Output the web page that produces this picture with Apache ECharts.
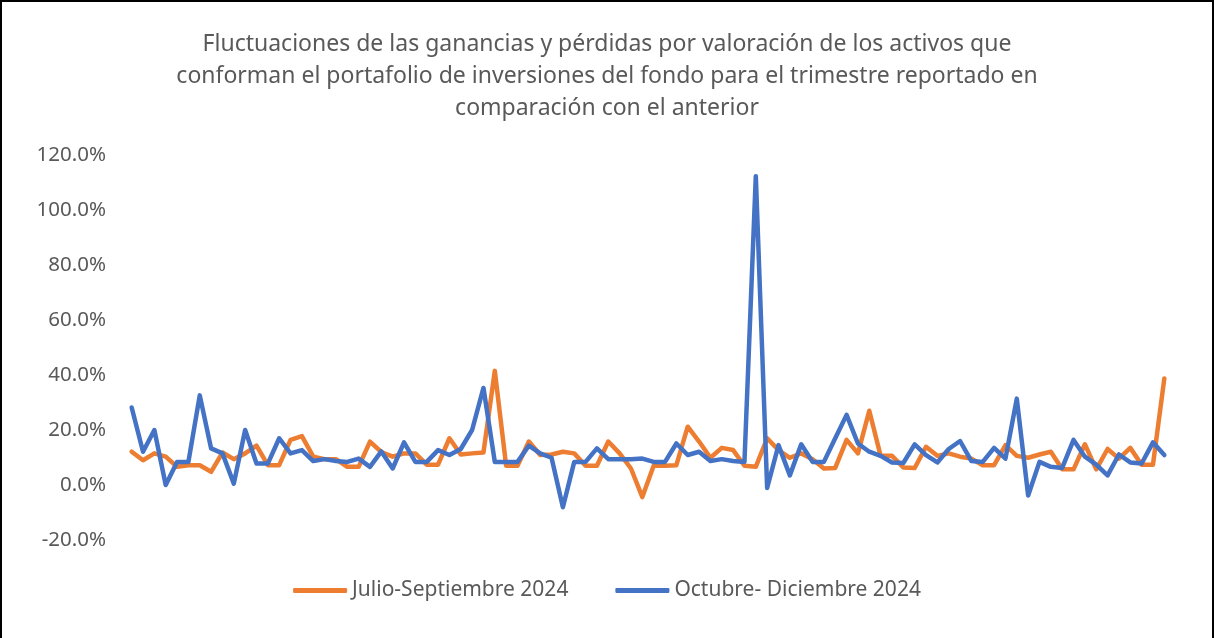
<!DOCTYPE html>
<html>
<head>
<meta charset="utf-8">
<script src="https://cdn.jsdelivr.net/npm/echarts@6/dist/echarts.min.js"></script>
<style>
  html, body { margin: 0; padding: 0; background: #fff; }
  #main { width: 1210px; height: 636px; border: 2px solid #000; border-bottom: none; }
</style>
</head>
<body>
<div id="main"></div>
<script>
// valores (%)
const julioSeptiembre = [
  12.1, 9.0, 11.5, 10.3, 6.6, 7.2, 7.2, 4.8, 11.8, 9.4,
  11.5, 14.3, 7.2, 7.2, 16.4, 17.8, 10.3, 9.4, 9.4, 6.6,
  6.6, 15.8, 12.0, 10.3, 11.5, 11.5, 7.4, 7.4, 17.0, 11.1,
  11.5, 11.8, 41.5, 7.0, 7.0, 15.8, 10.9, 11.1, 12.1, 11.5,
  7.0, 7.0, 15.8, 11.5, 6.0, -4.4, 7.0, 7.0, 7.2, 21.2,
  15.8, 9.9, 13.5, 12.7, 7.0, 6.6, 17.0, 12.7, 9.9, 11.5,
  9.4, 6.0, 6.2, 16.4, 11.5, 27.0, 10.6, 10.6, 6.4, 6.2,
  13.9, 10.6, 11.5, 10.3, 9.6, 7.2, 7.2, 14.5, 10.6, 9.9,
  11.1, 12.1, 5.7, 5.7, 14.8, 5.7, 13.1, 9.6, 13.5, 7.4,
  7.4, 38.7
]
const octubreDiciembre = [
  28.2, 12.1, 20.0, 0.0, 8.4, 8.4, 32.6, 13.3, 11.5, 0.5,
  20.0, 7.8, 7.8, 17.0, 11.5, 12.7, 8.7, 9.4, 8.7, 8.4,
  9.6, 6.6, 12.2, 6.0, 15.5, 8.4, 8.4, 12.7, 10.9, 13.1,
  20.0, 35.3, 8.4, 8.4, 8.4, 14.3, 11.5, 9.9, -8.1, 8.4,
  8.4, 13.3, 9.4, 9.4, 9.4, 9.6, 8.4, 8.4, 15.1, 10.9,
  12.1, 8.7, 9.4, 8.7, 8.4, 112.3, -1.1, 14.5, 3.5, 14.8,
  8.4, 8.4, 17.0, 25.5, 15.1, 12.1, 10.6, 8.2, 8.0, 14.8,
  10.9, 8.2, 13.1, 16.0, 8.7, 8.4, 13.5, 9.6, 31.4, -3.8,
  8.4, 6.6, 6.2, 16.4, 10.3, 7.4, 3.5, 11.1, 8.2, 7.8,
  15.5, 10.9
]
const categorias = julioSeptiembre.map((v, i) => String(i + 1))
const nombres = ['Julio-Septiembre 2024', 'Octubre- Diciembre 2024']

const chart = echarts.init(document.getElementById('main'))
chart.setOption({
  animation: false,
  textStyle: { fontFamily: 'Noto Sans', color: '#595959' },
  title: {
    text: 'Fluctuaciones de las ganancias y pérdidas por valoración de los activos que\nconforman el portafolio de inversiones del fondo para el trimestre reportado en\ncomparación con el anterior',
    left: 'center',
    top: 21,
    textStyle: {
      fontFamily: 'Noto Sans',
      fontSize: 23,
      fontWeight: 'normal',
      color: '#595959',
      lineHeight: 32
    }
  },
  legend: {
    data: nombres,
    bottom: 32,
    left: 'center',
    icon: 'roundRect',
    itemWidth: 54,
    itemHeight: 5,
    itemGap: 47,
    textStyle: { fontFamily: 'Noto Sans', fontSize: 21, color: '#595959' }
  },
  grid: { left: 124, right: 42, top: 153, bottom: 98 },
  xAxis: {
    type: 'category',
    data: categorias,
    boundaryGap: true,
    axisLine: { show: false },
    axisTick: { show: false },
    axisLabel: { show: false },
    splitLine: { show: false }
  },
  yAxis: {
    type: 'value',
    min: -20,
    max: 120,
    interval: 20,
    axisLine: { show: false },
    axisTick: { show: false },
    splitLine: { show: false },
    axisLabel: {
      margin: 20,
      fontFamily: 'Noto Sans',
      fontSize: 20.5,
      color: '#595959',
      formatter: v => v.toFixed(1) + '%'
    }
  },
  series: [
    {
      name: nombres[0],
      type: 'line',
      data: julioSeptiembre,
      symbol: 'none',
      color: '#ED7D31',
      lineStyle: { width: 4.5, cap: 'round', join: 'round' }
    },
    {
      name: nombres[1],
      type: 'line',
      data: octubreDiciembre,
      symbol: 'none',
      color: '#4472C4',
      lineStyle: { width: 4.5, cap: 'round', join: 'round' }
    }
  ]
})
</script>
</body>
</html>
